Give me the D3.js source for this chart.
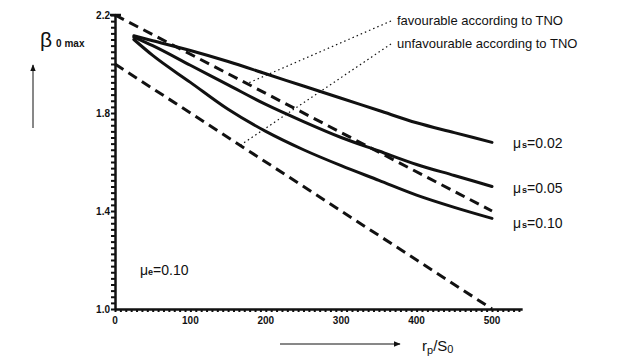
<!DOCTYPE html>
<html>
<head>
<meta charset="utf-8">
<script src="https://cdn.jsdelivr.net/npm/d3@7"></script>
<style>
  body { margin: 0; background: #fff; }
  svg { display: block; font-family: 'Liberation Sans', Arial, sans-serif; }
</style>
</head>
<body>
<svg id="chart" width="625" height="357"></svg>
<script>
// rp/So values and beta_0max
const xValues = [25, 50, 100, 150, 200, 250, 300, 350, 400, 450, 500];
const mu002 = [2.115, 2.095, 2.055, 2.01, 1.96, 1.91, 1.86, 1.81, 1.76, 1.72, 1.68];
const mu005 = [2.11, 2.075, 1.995, 1.915, 1.835, 1.765, 1.70, 1.645, 1.59, 1.545, 1.50];
const mu010 = [2.10, 2.035, 1.925, 1.815, 1.725, 1.65, 1.585, 1.525, 1.465, 1.415, 1.37];

// TNO straight lines: [x, beta] end points
const favourable = [[0, 2.2], [500, 1.4]];
const unfavourable = [[0, 2.0], [500, 1.0]];

const xTickLabels = [0, 100, 200, 300, 400, 500];
const yTickLabels = [1.0, 1.4, 1.8, 2.2];

const curveLabels = ['0.02', '0.05', '0.10'];

const svg = d3.select('#chart');
const ink = '#111';

const xScale = d3.scaleLinear().domain([0, 500]).range([115, 492]);
const yScale = d3.scaleLinear().domain([1.0, 2.2]).range([309, 15]);
const xEnd = 540;

// ---- axes ----
const xAxis = svg.append('g')
  .attr('transform', `translate(0, ${yScale(1.0)})`)
  .call(d3.axisBottom(xScale.copy().domain([0, xEnd]).range([115, xScale(xEnd)]))
    .tickValues(d3.range(0, xEnd, 100 / 14))
    .tickSize(3)
    .tickSizeOuter(0)
    .tickFormat(''));
xAxis.select('.domain').attr('stroke', ink).attr('stroke-width', 2.5);
xAxis.selectAll('.tick line').attr('stroke', ink).attr('stroke-width', 2);

const yAxis = svg.append('g')
  .attr('transform', `translate(${xScale(0)}, 0)`)
  .call(d3.axisLeft(yScale)
    .tickValues(d3.range(1.0, 2.2001, 0.025))
    .tickSize(4)
    .tickSizeOuter(0)
    .tickFormat(''));
yAxis.select('.domain').attr('stroke', ink).attr('stroke-width', 2.5);
yAxis.selectAll('.tick line').attr('stroke', ink).attr('stroke-width', 2);

// little crossbar at the top of the y axis
svg.append('line')
  .attr('x1', xScale(0) - 5).attr('x2', xScale(0) + 6)
  .attr('y1', yScale(2.2)).attr('y2', yScale(2.2))
  .attr('stroke', ink).attr('stroke-width', 2.5);

svg.selectAll('.xlab')
  .data(xTickLabels)
  .enter().append('text')
    .attr('class', 'xlab')
    .attr('x', d => xScale(d))
    .attr('y', yScale(1.0) + 15)
    .attr('text-anchor', 'middle')
    .attr('font-size', 10)
    .attr('font-weight', 'bold')
    .attr('fill', ink)
    .text(d => d);

svg.selectAll('.ylab')
  .data(yTickLabels)
  .enter().append('text')
    .attr('class', 'ylab')
    .attr('x', xScale(0) - 5)
    .attr('y', d => yScale(d) + 3.5)
    .attr('text-anchor', 'end')
    .attr('font-size', 10)
    .attr('font-weight', 'bold')
    .attr('fill', ink)
    .text(d => d.toFixed(1));

// ---- TNO dashed lines ----
const straight = d3.line()
  .x(d => xScale(d[0]))
  .y(d => yScale(d[1]));

[favourable, unfavourable].forEach(pts => {
  svg.append('path')
    .attr('d', straight(pts))
    .attr('fill', 'none')
    .attr('stroke', ink)
    .attr('stroke-width', 3)
    .attr('stroke-dasharray', '10,6');
});

// ---- mu curves ----
const curve = d3.line()
  .x((d, i) => xScale(xValues[i]))
  .y(d => yScale(d))
  .curve(d3.curveMonotoneX);

[mu002, mu005, mu010].forEach((series, k) => {
  svg.append('path')
    .attr('d', curve(series))
    .attr('fill', 'none')
    .attr('stroke', ink)
    .attr('stroke-width', 3)
    .attr('stroke-linecap', 'round');

  const last = series[series.length - 1];
  const t = svg.append('text')
    .attr('x', xScale(500) + 21)
    .attr('y', yScale(last) + 6 + (k === 2 ? 4 : 0))
    .attr('font-size', 14)
    .attr('fill', ink);
  t.append('tspan').text('μ');
  t.append('tspan').attr('font-size', 9).attr('font-weight', 'bold').attr('dx', 1).text('s');
  t.append('tspan').text('=' + curveLabels[k]);
});

// ---- annotations with dotted leaders ----
function lineAt(pts, x) {
  const [[x0, y0], [x1, y1]] = pts;
  return y0 + (y1 - y0) * (x - x0) / (x1 - x0);
}

const notes = [
  { text: 'favourable according to TNO', line: favourable, at: 175, y: 25 },
  { text: 'unfavourable according to TNO', line: unfavourable, at: 166, y: 48 }
];

notes.forEach(n => {
  svg.append('line')
    .attr('x1', 391).attr('y1', n.y - 4)
    .attr('x2', xScale(n.at)).attr('y2', yScale(lineAt(n.line, n.at)))
    .attr('stroke', ink)
    .attr('stroke-width', 1.2)
    .attr('stroke-dasharray', '1.5,3');
  svg.append('text')
    .attr('x', 397)
    .attr('y', n.y)
    .attr('font-size', 13)
    .attr('fill', ink)
    .text(n.text);
});

// mu_e label inside the plot
const mue = svg.append('text')
  .attr('x', 140).attr('y', 275)
  .attr('font-size', 14)
  .attr('fill', ink);
mue.append('tspan').text('μ');
mue.append('tspan').attr('font-size', 9).attr('font-weight', 'bold').text('e');
mue.append('tspan').text('=0.10');

// ---- axis titles ----
const yTitle = svg.append('text')
  .attr('x', 40).attr('y', 47)
  .attr('fill', ink);
yTitle.append('tspan').attr('font-size', 21).text('β');
yTitle.append('tspan').attr('font-size', 10).attr('font-weight', 'bold').attr('dx', 4).text('0 max');

const defs = svg.append('defs');
defs.append('marker')
  .attr('id', 'head')
  .attr('viewBox', '0 0 10 10')
  .attr('refX', 9).attr('refY', 5)
  .attr('markerWidth', 7).attr('markerHeight', 7)
  .attr('orient', 'auto')
  .append('path')
    .attr('d', 'M0,1 L10,5 L0,9 Z')
    .attr('fill', ink);

svg.append('line')
  .attr('x1', 33).attr('y1', 128)
  .attr('x2', 33).attr('y2', 65)
  .attr('stroke', ink).attr('stroke-width', 1)
  .attr('marker-end', 'url(#head)');

svg.append('line')
  .attr('x1', 280).attr('y1', 344)
  .attr('x2', 400).attr('y2', 344)
  .attr('stroke', ink).attr('stroke-width', 1)
  .attr('marker-end', 'url(#head)');

const xTitle = svg.append('text')
  .attr('x', 422).attr('y', 351)
  .attr('font-size', 15)
  .attr('fill', ink);
xTitle.append('tspan').text('r');
xTitle.append('tspan').attr('font-size', 11).attr('dy', 3).text('p');
xTitle.append('tspan').attr('dy', -3).text('/S');
xTitle.append('tspan').attr('font-size', 11).attr('dy', 2).text('0');
</script>
</body>
</html>
